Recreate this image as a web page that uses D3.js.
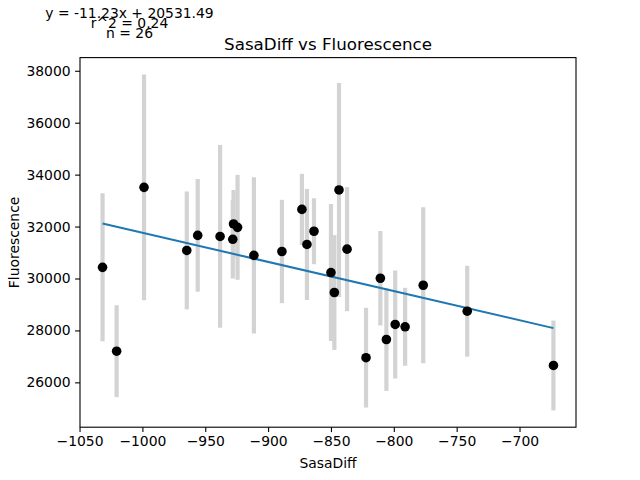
<!DOCTYPE html>
<html>
<head>
<meta charset="utf-8">
<script src="https://cdn.jsdelivr.net/npm/d3@7"></script>
<style>
  body { margin: 0; background: #fff; }
  svg { display: block; font-family: "DejaVu Sans", sans-serif; }
</style>
</head>
<body>
<svg id="chart" width="640" height="480"></svg>
<script>
// ---- data ----
const sasaDiff = [-1031.7, -1020.5, -998.7, -964.7, -956.0, -938.2, -927.5, -924.3, -928.1,
  -911.3, -889.0, -873.1, -869.1, -863.5, -850.0, -847.3, -843.6, -837.2, -822.1,
  -810.7, -805.9, -798.9, -791.0, -776.6, -741.6, -673.0];
const fluorescence = [30430, 27200, 33510, 31080, 31660, 31620, 32100, 31970, 31510,
  30890, 31040, 32660, 31310, 31820, 30230, 29460, 33410, 31130, 26950,
  30010, 27650, 28230, 28140, 29740, 28740, 26650];
const fluorError = [2850, 1770, 4350, 2270, 2170, 3520, 1310, 2020, 1510,
  3010, 1990, 1370, 2140, 1270, 2640, 2210, 4120, 2390, 1920,
  1820, 1980, 2080, 1500, 3000, 1750, 1730];
const fitSlope = -11.23;
const fitIntercept = 20531.49;
const fitR2 = 0.24;
const xTicks = [-1050, -1000, -950, -900, -850, -800, -750, -700];
const yTicks = [26000, 28000, 30000, 32000, 34000, 36000, 38000];
const titleText = "SasaDiff vs Fluorescence";
const xLabel = "SasaDiff";
const yLabel = "Fluorescence";

// ---- layout ----
const W = 640, H = 480;
const m = { left: 80, right: 64, top: 57.6, bottom: 52.8 };
const svg = d3.select("#chart");
const pw = W - m.left - m.right, ph = H - m.top - m.bottom;

const pts = sasaDiff.map((x, i) => ({ x, y: fluorescence[i], e: fluorError[i] }));
const xMin = d3.min(sasaDiff), xMax = d3.max(sasaDiff);
const yLo = d3.min(pts, d => d.y - d.e), yHi = d3.max(pts, d => d.y + d.e);
const xPad = (xMax - xMin) * 0.05, yPad = (yHi - yLo) * 0.05;

const x = d3.scaleLinear().domain([xMin - xPad, xMax + xPad]).range([m.left, m.left + pw]);
const y = d3.scaleLinear().domain([yLo - yPad, yHi + yPad]).range([m.top + ph, m.top]);

const g = svg.append("g");

// error bars
g.selectAll("line.err").data(pts).enter().append("line")
  .attr("class", "err")
  .attr("x1", d => x(d.x)).attr("x2", d => x(d.x))
  .attr("y1", d => y(d.y - d.e)).attr("y2", d => y(d.y + d.e))
  .attr("stroke", "#d3d3d3").attr("stroke-width", 4.2);

// regression line
g.append("line")
  .attr("x1", x(xMin)).attr("y1", y(fitSlope * xMin + fitIntercept))
  .attr("x2", x(xMax)).attr("y2", y(fitSlope * xMax + fitIntercept))
  .attr("stroke", "#1f77b4").attr("stroke-width", 2);

// points
g.selectAll("circle").data(pts).enter().append("circle")
  .attr("cx", d => x(d.x)).attr("cy", d => y(d.y))
  .attr("r", 4.8).attr("fill", "#000");

// axes
const fmt = d3.format("d");
const xAxis = svg.append("g").attr("transform", `translate(0,${m.top + ph})`)
  .call(d3.axisBottom(x).tickValues(xTicks).tickFormat(d => fmt(d).replace("-", "\u2212")).tickSize(4.9).tickPadding(4.5));
const yAxis = svg.append("g").attr("transform", `translate(${m.left},0)`)
  .call(d3.axisLeft(y).tickValues(yTicks).tickFormat(fmt).tickSize(4.9).tickPadding(4.5));
[xAxis, yAxis].forEach(a => {
  a.select(".domain").remove();
  a.selectAll(".tick line").attr("stroke", "#000").attr("stroke-width", 1.1);
  a.selectAll(".tick text").attr("fill", "#000").style("font-size", "13.9px").style("font-family", "DejaVu Sans");
});

// frame
svg.append("rect").attr("x", m.left).attr("y", m.top).attr("width", pw).attr("height", ph)
  .attr("fill", "none").attr("stroke", "#000").attr("stroke-width", 1.1);

// labels
svg.append("text").attr("x", m.left + pw / 2).attr("y", 467.5).attr("text-anchor", "middle")
  .style("font-size", "13.9px").text(xLabel);
svg.append("text").attr("transform", `translate(19,${m.top + ph / 2}) rotate(-90)`).attr("text-anchor", "middle")
  .style("font-size", "13.9px").text(yLabel);
svg.append("text").attr("x", m.left + pw / 2).attr("y", 49.5).attr("text-anchor", "middle")
  .style("font-size", "16.7px").text(titleText);

// fit annotations
const sign = fitIntercept >= 0 ? "+" : "-";
const ann = [
  `y = ${fitSlope.toFixed(2)}x ${sign} ${Math.abs(fitIntercept).toFixed(2)}`,
  `r^2 = ${fitR2.toFixed(2)}`,
  `n = ${pts.length}`
];
const annY = [17.5, 27.5, 37.5];
ann.forEach((t, i) => {
  svg.append("text").attr("x", 129.5).attr("y", annY[i]).attr("text-anchor", "middle")
    .style("font-size", "13.9px").text(t);
});
</script>
</body>
</html>
